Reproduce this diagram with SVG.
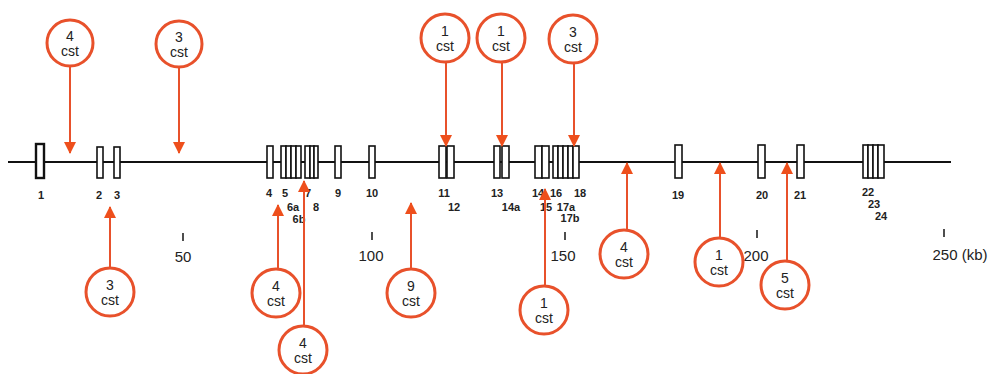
<svg xmlns="http://www.w3.org/2000/svg" width="993" height="374" viewBox="0 0 993 374">
<style>
.ex{fill:#fff;stroke:#111;stroke-width:1.6}
.lb{font-family:"Liberation Sans",Arial,sans-serif;font-size:11px;font-weight:bold;fill:#222;text-anchor:middle}
.sc{font-family:"Liberation Sans",Arial,sans-serif;font-size:15px;fill:#222;text-anchor:middle}
.tk{stroke:#222;stroke-width:1.6}
.cc{fill:#fff;stroke:#e8512b;stroke-width:3}
.ct{font-family:"Liberation Sans",Arial,sans-serif;font-size:14px;fill:#222;text-anchor:middle}
.ar{stroke:#e8512b;stroke-width:2;fill:none;marker-end:url(#ah)}
</style>
<defs>
<marker id="ah" markerUnits="userSpaceOnUse" markerWidth="12" markerHeight="12" viewBox="0 0 12 12" refX="11" refY="6" orient="auto">
<path d="M0,0 L12,6 L0,12 Z" fill="#ee4f1c"/>
</marker>
</defs>
<rect width="993" height="374" fill="#fff"/>
<g id="gene">
<line x1="8" y1="162" x2="951" y2="162" stroke="#111" stroke-width="2"/>
<rect x="36" y="144" width="8" height="34" fill="#fff" stroke="#111" stroke-width="2.4"/>
<rect class="ex" x="97" y="147" width="6" height="31"/>
<rect class="ex" x="114" y="147" width="6" height="31"/>
<rect class="ex" x="267" y="146" width="6" height="32"/>
<rect class="ex" x="281" y="146" width="5" height="32"/>
<rect class="ex" x="286" y="146" width="5" height="32"/>
<rect class="ex" x="291" y="146" width="5" height="32"/>
<rect class="ex" x="296" y="146" width="5" height="32"/>
<rect class="ex" x="305" y="146" width="5" height="32"/>
<rect class="ex" x="310" y="146" width="4" height="32"/>
<rect class="ex" x="314" y="146" width="4" height="32"/>
<rect class="ex" x="335" y="146" width="6" height="32"/>
<rect class="ex" x="369" y="146" width="6" height="32"/>
<rect class="ex" x="439" y="146" width="7" height="32"/>
<rect class="ex" x="447" y="146" width="7" height="32"/>
<rect class="ex" x="494" y="146" width="6" height="32"/>
<rect class="ex" x="502" y="146" width="7" height="32"/>
<rect class="ex" x="535" y="146" width="7" height="32"/>
<rect class="ex" x="542" y="146" width="7" height="32"/>
<rect class="ex" x="553" y="146" width="5" height="32"/>
<rect class="ex" x="558" y="146" width="5" height="32"/>
<rect class="ex" x="563" y="146" width="5" height="32"/>
<rect class="ex" x="568" y="146" width="5" height="32"/>
<rect class="ex" x="573" y="146" width="6" height="32"/>
<rect class="ex" x="675" y="145" width="7" height="33"/>
<rect class="ex" x="758" y="145" width="7" height="33"/>
<rect class="ex" x="797" y="145" width="7" height="33"/>
<rect class="ex" x="863" y="145" width="5" height="33"/>
<rect class="ex" x="868" y="145" width="5" height="33"/>
<rect class="ex" x="873" y="145" width="5" height="33"/>
<rect class="ex" x="878" y="145" width="6" height="33"/>
</g>
<g id="exon-labels">
<text class="lb" x="41" y="199">1</text>
<text class="lb" x="99" y="199">2</text>
<text class="lb" x="117" y="199">3</text>
<text class="lb" x="269" y="197">4</text>
<text class="lb" x="285" y="197">5</text>
<text class="lb" x="293" y="211">6a</text>
<text class="lb" x="299" y="223">6b</text>
<text class="lb" x="308" y="197">7</text>
<text class="lb" x="316" y="211">8</text>
<text class="lb" x="338" y="197">9</text>
<text class="lb" x="372" y="197">10</text>
<text class="lb" x="444" y="197">11</text>
<text class="lb" x="454" y="211">12</text>
<text class="lb" x="497" y="197">13</text>
<text class="lb" x="511" y="211">14a</text>
<text class="lb" x="538" y="197">14</text>
<text class="lb" x="556" y="197">16</text>
<text class="lb" x="546" y="211">15</text>
<text class="lb" x="566" y="211">17a</text>
<text class="lb" x="570" y="222">17b</text>
<text class="lb" x="580" y="197">18</text>
<text class="lb" x="678" y="199">19</text>
<text class="lb" x="762" y="199">20</text>
<text class="lb" x="800" y="199">21</text>
<text class="lb" x="868" y="196">22</text>
<text class="lb" x="874" y="208">23</text>
<text class="lb" x="881" y="220">24</text>
</g>
<g id="scale">
<line class="tk" x1="183" y1="233" x2="183" y2="241"/>
<text class="sc" x="183" y="262">50</text>
<line class="tk" x1="372" y1="232" x2="372" y2="240"/>
<text class="sc" x="371" y="261">100</text>
<line class="tk" x1="565" y1="232" x2="565" y2="240"/>
<text class="sc" x="563" y="261">150</text>
<line class="tk" x1="757" y1="230" x2="757" y2="238"/>
<text class="sc" x="756" y="261">200</text>
<line class="tk" x1="944" y1="229" x2="944" y2="237"/>
<text class="sc" x="960" y="260">250 (kb)</text>
</g>
<g id="connectors">
<line class="ar" x1="70" y1="66" x2="70" y2="153"/>
<line class="ar" x1="179" y1="67" x2="179" y2="153"/>
<line class="ar" x1="446" y1="62" x2="446" y2="146"/>
<line class="ar" x1="502" y1="62" x2="502" y2="146"/>
<line class="ar" x1="574" y1="63" x2="574" y2="146"/>
<line class="ar" x1="110" y1="268" x2="110" y2="207"/>
<line class="ar" x1="278" y1="269" x2="278" y2="205"/>
<line class="ar" x1="304" y1="326" x2="304" y2="181"/>
<line class="ar" x1="411" y1="269" x2="411" y2="203"/>
<line class="ar" x1="545" y1="286" x2="545" y2="189"/>
<line class="ar" x1="627" y1="230" x2="627" y2="163"/>
<line class="ar" x1="720" y1="238" x2="720" y2="163"/>
<line class="ar" x1="787" y1="261" x2="787" y2="163"/>
</g>
<g id="n1"><circle class="cc" cx="70" cy="43" r="23"/><text class="ct" x="70" y="41">4</text><text class="ct" x="70" y="56">cst</text></g>
<g id="n2"><circle class="cc" cx="179" cy="44" r="23"/><text class="ct" x="179" y="42">3</text><text class="ct" x="179" y="57">cst</text></g>
<g id="n3"><circle class="cc" cx="445" cy="38" r="24"/><text class="ct" x="445" y="36">1</text><text class="ct" x="445" y="51">cst</text></g>
<g id="n4"><circle class="cc" cx="501" cy="38" r="24"/><text class="ct" x="501" y="36">1</text><text class="ct" x="501" y="51">cst</text></g>
<g id="n5"><circle class="cc" cx="573" cy="39" r="24"/><text class="ct" x="573" y="37">3</text><text class="ct" x="573" y="52">cst</text></g>
<g id="n6"><circle class="cc" cx="110" cy="292" r="24"/><text class="ct" x="110" y="290">3</text><text class="ct" x="110" y="305">cst</text></g>
<g id="n7"><circle class="cc" cx="276" cy="293" r="24"/><text class="ct" x="276" y="291">4</text><text class="ct" x="276" y="306">cst</text></g>
<g id="n8"><circle class="cc" cx="303" cy="350" r="24"/><text class="ct" x="303" y="348">4</text><text class="ct" x="303" y="363">cst</text></g>
<g id="n9"><circle class="cc" cx="411" cy="293" r="24"/><text class="ct" x="411" y="291">9</text><text class="ct" x="411" y="306">cst</text></g>
<g id="n10"><circle class="cc" cx="544" cy="310" r="24"/><text class="ct" x="544" y="308">1</text><text class="ct" x="544" y="323">cst</text></g>
<g id="n11"><circle class="cc" cx="624" cy="254" r="24"/><text class="ct" x="624" y="252">4</text><text class="ct" x="624" y="267">cst</text></g>
<g id="n12"><circle class="cc" cx="719" cy="262" r="24"/><text class="ct" x="719" y="260">1</text><text class="ct" x="719" y="275">cst</text></g>
<g id="n13"><circle class="cc" cx="785" cy="285" r="24"/><text class="ct" x="785" y="283">5</text><text class="ct" x="785" y="298">cst</text></g>
</svg>
